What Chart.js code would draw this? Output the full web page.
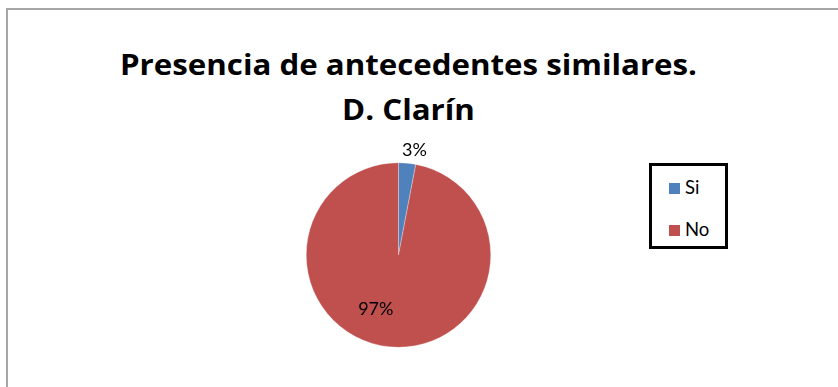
<!DOCTYPE html>
<html>
<head>
<meta charset="utf-8">
<script src="https://cdn.jsdelivr.net/npm/chart.js@4/dist/chart.umd.min.js"></script>
<style>
  html, body { margin: 0; padding: 0; background: #fff; width: 838px; height: 387px; overflow: hidden; }
  #frame { position: absolute; left: 6px; top: 8px; width: 900px; height: 450px; border: 2px solid #a6a6a6; box-sizing: border-box; }
  #title { position: absolute; left: 0; width: 817px; top: 42px; text-align: center; font-family: "Open Sans", Lato, sans-serif; font-weight: bold; font-size: 28px; line-height: 45px; color: #000; white-space: nowrap; }
  #title div { display: block; }
  #title span { display: inline-block; transform-origin: 50% 50%; }
  #wrap { position: absolute; left: 280px; top: 120px; width: 237px; height: 260px; }
  #legend { position: absolute; left: 649px; top: 163px; width: 79px; height: 86px; border: 3px solid #000; box-sizing: border-box; font-family: Lato, "Noto Sans", sans-serif; font-size: 18.5px; color: #000; }
  .item { position: absolute; left: 17px; height: 20px; line-height: 20px; white-space: nowrap; }
  .sw { display: inline-block; width: 11px; height: 11px; vertical-align: middle; margin-right: 5px; position: relative; top: -1px; }
</style>
</head>
<body>
<div id="frame"></div>
<div id="title"></div>
<div id="wrap"><canvas id="c"></canvas></div>
<div id="legend"></div>
<script>
const titleLines = ["Presencia de antecedentes similares.", "D. Clarín"];
const categories = ["Si", "No"];
const values = [3, 97];
const colors = ["#4F81BD", "#C0504D"];

// Title (fit first line to the reference width, same horizontal scale for all lines)
const t = document.getElementById('title');
const spans = titleLines.map(l => {
  const d = document.createElement('div');
  const s = document.createElement('span');
  s.textContent = l;
  d.appendChild(s);
  t.appendChild(d);
  return s;
});
const sx = 577 / spans[0].getBoundingClientRect().width;
spans.forEach(s => { s.style.transform = 'scaleX(' + sx + ')'; });

// Legend
const lg = document.getElementById('legend');
const itemTops = [11, 53];
categories.forEach((c, i) => {
  const it = document.createElement('div');
  it.className = 'item';
  it.style.top = itemTops[i] + 'px';
  const sw = document.createElement('span');
  sw.className = 'sw';
  sw.style.background = colors[i];
  it.appendChild(sw);
  it.appendChild(document.createTextNode(c));
  lg.appendChild(it);
});

const total = values.reduce((a, b) => a + b, 0);

const labelPlugin = {
  id: 'pctLabels',
  afterDatasetsDraw(chart) {
    const ctx = chart.ctx;
    const meta = chart.getDatasetMeta(0);
    ctx.save();
    ctx.font = '18px Lato, "Noto Sans", sans-serif';
    ctx.fillStyle = '#000';
    ctx.textAlign = 'center';
    ctx.textBaseline = 'middle';
    meta.data.forEach((arc, i) => {
      const p = arc.getProps(['x', 'y', 'startAngle', 'endAngle', 'outerRadius'], true);
      const mid = (p.startAngle + p.endAngle) / 2;
      const frac = values[i] / total;
      const outside = frac < 0.1;
      const ang = outside ? mid : mid + 0.3;
      const r = outside ? p.outerRadius + 13 : p.outerRadius * 0.64;
      const x = p.x + Math.cos(ang) * r + (outside ? 6 : 0);
      const y = p.y + Math.sin(ang) * r;
      ctx.fillText(Math.round(frac * 100) + '%', x, y);
    });
    ctx.restore();
  }
};

new Chart(document.getElementById('c'), {
  type: 'pie',
  data: {
    labels: categories,
    datasets: [{ data: values, backgroundColor: colors, borderColor: 'rgba(255,255,255,0.6)', borderWidth: 0.5 }]
  },
  options: {
    responsive: true,
    maintainAspectRatio: false,
    animation: false,
    layout: { padding: { left: 26, right: 26, top: 42.5, bottom: 32.5 } },
    plugins: { legend: { display: false }, tooltip: { enabled: false } }
  },
  plugins: [labelPlugin]
});
</script>
</body>
</html>
